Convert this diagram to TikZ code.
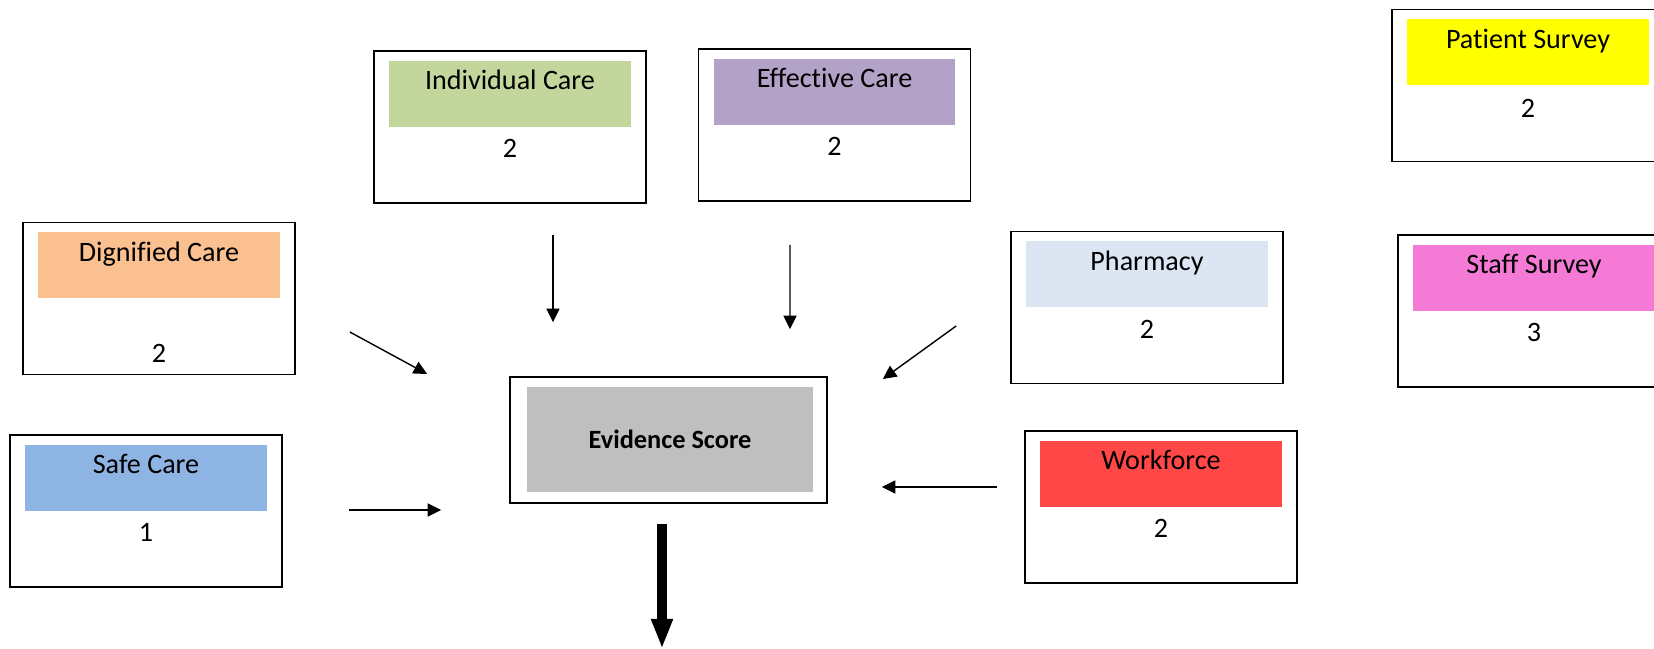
\documentclass[tikz,border=0pt]{standalone}
\usepackage{fontspec}
\setmainfont{Carlito}[Ligatures=NoCommon]
\usetikzlibrary{positioning,calc,arrows.meta}

\definecolor{dignpeach}{HTML}{FAC090}
\definecolor{safeblue}{HTML}{8EB4E3}
\definecolor{indivgreen}{HTML}{C3D69B}
\definecolor{effectlilac}{HTML}{B3A2C7}
\definecolor{pharmblue}{HTML}{DCE6F2}
\definecolor{workred}{HTML}{FF4747}
\definecolor{patientyellow}{HTML}{FFFF00}
\definecolor{staffpink}{HTML}{F57AD6}
\definecolor{evidgray}{HTML}{BFBFBF}

\begin{document}
\begin{tikzpicture}[x=0.02cm, y=-0.02cm, line width=0.8pt,
    box/.style = {draw, line width=1pt, minimum width=5.44cm, minimum height=3.04cm},
    head/.style = {inner sep=0pt, minimum width=4.84cm, text height=0.58cm, text depth=0.74cm, font=\fontsize{16}{19}\selectfont},
    num/.style = {inner sep=0pt, font=\fontsize{16}{19}\selectfont},
    link/.style = {-{Triangle[length=0.27cm, width=0.26cm]}},
    bigarrow/.style = {line width=5.7pt, -{Triangle[length=0.6cm, width=0.4cm]}}]

    \useasboundingbox (0,0) rectangle (1654,649);
    \clip (0,0) rectangle (1654,649);

    \node[box] (evid) at (668.5,440) [minimum width=6.34cm, minimum height=2.52cm] {};
    \node[fill=evidgray, minimum width=5.72cm, minimum height=2.1cm, font=\fontsize{15}{18}\selectfont\bfseries] (evidinner) at (670,439.5) {Evidence Score};

    \node[box] (dign) at (159,298.5) {};
    \node[head, fill=dignpeach] (dignhead) [below=0.2cm of dign.north] {Dignified Care};
    \node[num] (dignnum) at ($(dignhead.south)+(0,54)$) {2};

    \node[box] (safe) at (146,511) {};
    \node[head, fill=safeblue] (safehead) [below=0.2cm of safe.north] {Safe Care};
    \node[num] (safenum) at ($(safehead.south)+(0,21)$) {1};

    \node[box] (indiv) at (510,127) {};
    \node[head, fill=indivgreen] (indivhead) [below=0.2cm of indiv.north] {Individual Care};
    \node[num] (indivnum) at ($(indivhead.south)+(0,21)$) {2};

    \node[box] (effect) at (834.5,125) {};
    \node[head, fill=effectlilac] (effecthead) [below=0.2cm of effect.north] {Effective Care};
    \node[num] (effectnum) at ($(effecthead.south)+(0,21)$) {2};

    \node[box] (pharm) at (1147,307.5) {};
    \node[head, fill=pharmblue] (pharmhead) [below=0.2cm of pharm.north] {Pharmacy};
    \node[num] (pharmnum) at ($(pharmhead.south)+(0,21)$) {2};

    \node[box] (work) at (1161,507) {};
    \node[head, fill=workred] (workhead) [below=0.2cm of work.north] {Workforce};
    \node[num] (worknum) at ($(workhead.south)+(0,21)$) {2};

    \node[box] (patient) at (1528,85.5) {};
    \node[head, fill=patientyellow] (patienthead) [below=0.2cm of patient.north] {Patient Survey};
    \node[num] (patientnum) at ($(patienthead.south)+(0,22)$) {2};

    \node[box] (staff) at (1534,311) {};
    \node[head, fill=staffpink] (staffhead) [below=0.2cm of staff.north] {Staff Survey};
    \node[num] (staffnum) at ($(staffhead.south)+(0,21)$) {3};

    \draw[link] ($(dign.east)+(54,33.5)$) -- ($(evid.west)+(-82,-66)$);
    \draw[link] ($(safe.east)+(66,-1)$) -- ($(evid.west)+(-68,70)$);
    \draw[link] ($(indiv.south)+(43,31)$) -- ($(evid.north)+(-115.5,-54)$);
    \draw[link] ($(effect.south)+(-44.5,43)$) -- ($(evid.north)+(121.5,-47)$);
    \draw[link] ($(pharm.west)+(-54,18.5)$) -- ($(evid.east)+(55,-61)$);
    \draw[link] ($(work.west)+(-27,-20)$) -- ($(evid.east)+(54,47)$);
    \draw[bigarrow] ($(evid.south)+(-6.5,20)$) -- ($(evid.south)+(-6.5,145)$);

\end{tikzpicture}
\end{document}
